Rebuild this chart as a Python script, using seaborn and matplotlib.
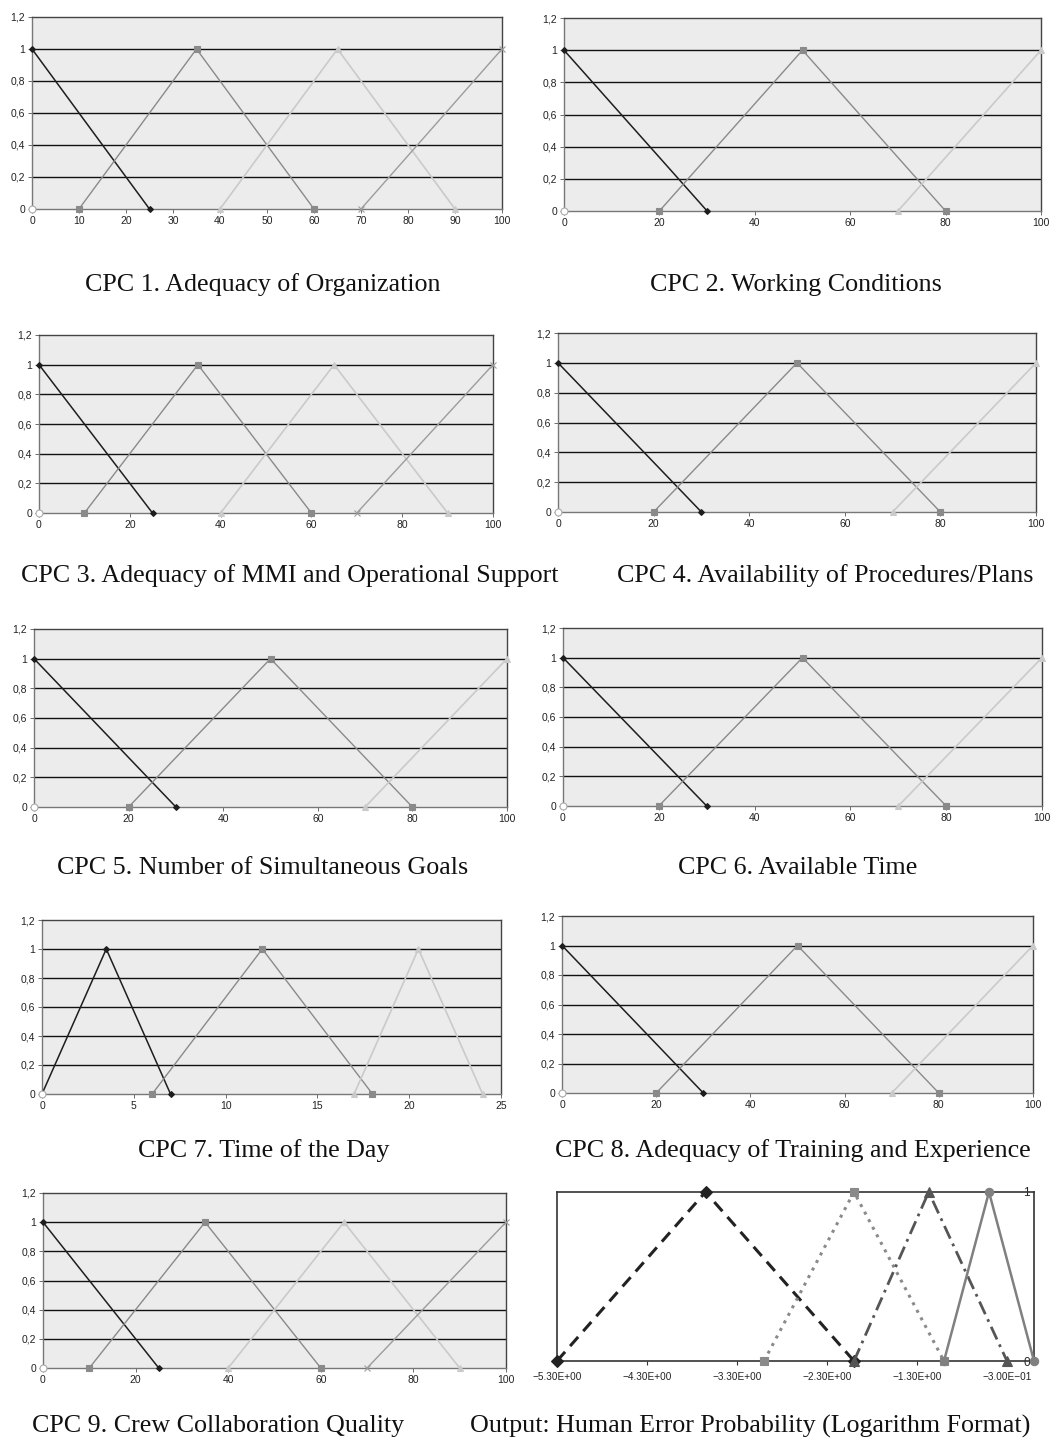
import numpy as np
import pandas as pd
import matplotlib
matplotlib.use("Agg")
import matplotlib.pyplot as plt
import seaborn as sns

# ---------------- data ----------------
panel_titles = [
    "CPC 1. Adequacy of Organization",
    "CPC 2. Working Conditions",
    "CPC 3. Adequacy of MMI and Operational Support",
    "CPC 4. Availability of Procedures/Plans",
    "CPC 5. Number of Simultaneous Goals",
    "CPC 6. Available Time",
    "CPC 7. Time of the Day",
    "CPC 8. Adequacy of Training and Experience",
    "CPC 9. Crew Collaboration Quality",
    "Output: Human Error Probability (Logarithm Format)",
]

# four-term membership functions (CPC 1, 3, 9)
four_x = [[0, 25], [10, 35, 60], [40, 65, 90], [70, 100]]
four_y = [[1, 0], [0, 1, 0], [0, 1, 0], [0, 1]]

# three-term membership functions (CPC 2, 4, 5, 6, 8)
three_x = [[0, 30], [20, 50, 80], [70, 100]]
three_y = [[1, 0], [0, 1, 0], [0, 1]]

# time of day (CPC 7)
day_x = [[0, 3.5, 7], [6, 12, 18], [17, 20.5, 24]]
day_y = [[0, 1, 0], [0, 1, 0], [0, 1, 0]]

# empty reference point drawn at the origin in each CPC chart
origin_x = [0]
origin_y = [0]

# output: human error probability (log10)
hep_x = [[-5.3, -3.65, -2.0], [-3.0, -2.0, -1.0], [-2.0, -1.17, -0.3], [-1.0, -0.5, 0.0]]
hep_y = [[0, 1, 0], [0, 1, 0], [0, 1, 0], [0, 1, 0]]
hep_ticks = [-5.3, -4.3, -3.3, -2.3, -1.3, -0.3]
hep_tick_labels = ["\u22125.30E+00", "\u22124.30E+00", "\u22123.30E+00",
                   "\u22122.30E+00", "\u22121.30E+00", "\u22123.00E\u221201"]

y_ticks = [0, 0.2, 0.4, 0.6, 0.8, 1.0, 1.2]
y_tick_labels = ["0", "0,2", "0,4", "0,6", "0,8", "1", "1,2"]

x_ticks_10 = [0, 10, 20, 30, 40, 50, 60, 70, 80, 90, 100]
x_ticks_20 = [0, 20, 40, 60, 80, 100]
x_ticks_day = [0, 5, 10, 15, 20, 25]

# ---------------- style ----------------
sns.set_style("white")
plt.rcParams["font.family"] = ["Liberation Sans", "DejaVu Sans"]

W, H = 1054, 1439
fig = plt.figure(figsize=(W / 100, H / 100), dpi=100)
fig.patch.set_facecolor("white")


def add_ax(l, t, r, b):
    return fig.add_axes([l / W, 1 - b / H, (r - l) / W, (b - t) / H])


def mk(color, marker, ms, lw, **extra):
    d = dict(color=color, marker=marker, markersize=ms, linewidth=lw,
             markeredgecolor=color, markerfacecolor=color, markeredgewidth=0.8)
    d.update(extra)
    return d


four_styles = [
    mk("#1e1e1e", "D", 3.0, 1.1),
    mk("#8a8a8a", "s", 4.5, 1.0),
    mk("#cacaca", "^", 4.5, 1.2),
    mk("#9c9c9c", "x", 4.5, 1.0),
]
three_styles = [four_styles[0], four_styles[1], four_styles[2]]

# (box in px, x data, y data, styles, xticks, xmax)
panels = [
    ((32, 17, 502, 209), four_x, four_y, four_styles, x_ticks_10, 100),
    ((564, 18, 1041, 211), three_x, three_y, three_styles, x_ticks_20, 100),
    ((39, 335, 493, 513), four_x, four_y, four_styles, x_ticks_20, 100),
    ((558, 333, 1036, 512), three_x, three_y, three_styles, x_ticks_20, 100),
    ((34, 629, 507, 807), three_x, three_y, three_styles, x_ticks_20, 100),
    ((563, 628, 1042, 806), three_x, three_y, three_styles, x_ticks_20, 100),
    ((42, 920, 501, 1094), day_x, day_y, three_styles, x_ticks_day, 25),
    ((562, 916, 1033, 1093), three_x, three_y, three_styles, x_ticks_20, 100),
    ((43, 1193, 506, 1368), four_x, four_y, four_styles, x_ticks_20, 100),
]

for box, xs_list, ys_list, styles, xt, xmax in panels:
    ax = add_ax(*box)
    ax.set_facecolor("#ececec")
    for yv in y_ticks[1:-1]:
        ax.axhline(yv, color="#111111", linewidth=1.0, zorder=1)
    for xs, ys, st in zip(xs_list, ys_list, styles):
        sns.lineplot(x=xs, y=ys, ax=ax, sort=False, estimator=None,
                     clip_on=False, zorder=3, **st)
    sns.lineplot(x=origin_x, y=origin_y, ax=ax, marker="o", markersize=5,
                 markerfacecolor="white", markeredgecolor="#aaaaaa",
                 markeredgewidth=0.8, linewidth=0, clip_on=False, zorder=4)
    ax.set_xlim(0, xmax)
    ax.set_ylim(0, 1.2)
    ax.set_xticks(xt)
    ax.set_xticklabels([str(v) for v in xt])
    ax.set_yticks(y_ticks)
    ax.set_yticklabels(y_tick_labels)
    ax.tick_params(axis="both", which="both", labelsize=7.5, length=3,
                   width=0.6, color="#555555", direction="out", pad=2,
                   labelcolor="#222222", bottom=True, left=True)
    for side, sp in ax.spines.items():
        sp.set_visible(True)
        sp.set_linewidth(1.0)
        sp.set_color("#777777" if side in ("bottom", "left") else "#444444")
    ax.set_xlabel("")
    ax.set_ylabel("")

# output panel
ax = add_ax(557, 1192, 1034, 1361)
ax.set_facecolor("white")
out_styles = [
    mk("#222222", "D", 6, 2.2, linestyle=(0, (4, 2.5))),
    mk("#8a8a8a", "s", 6, 2.2, linestyle=(0, (1, 1.8))),
    mk("#555555", "^", 7, 2.0, linestyle=(0, (5, 2, 1, 2))),
    mk("#808080", "o", 6, 1.8, linestyle="-"),
]
for xs, ys, st in zip(hep_x, hep_y, out_styles):
    sns.lineplot(x=xs, y=ys, ax=ax, sort=False, estimator=None,
                 clip_on=False, zorder=3, **st)
ax.set_xlim(-5.3, 0.0)
ax.set_ylim(0, 1)
ax.set_xticks(hep_ticks)
ax.set_xticklabels(hep_tick_labels)
ax.yaxis.tick_right()
ax.set_yticks([0, 1])
ax.set_yticklabels(["0", "1"])
ax.tick_params(axis="x", labelsize=7.2, length=3, width=0.8, color="#333333",
               direction="out", pad=5, bottom=True, labelcolor="#222222")
ax.tick_params(axis="y", labelsize=8.5, length=0, pad=-3, right=True)
for lab in ax.get_yticklabels():
    lab.set_horizontalalignment("right")
for sp in ax.spines.values():
    sp.set_visible(True)
    sp.set_linewidth(1.2)
    sp.set_color("#333333")
ax.set_xlabel("")
ax.set_ylabel("")

# captions
captions = [
    (263, 285), (796, 285),
    (290, 576), (825, 576),
    (263, 868), (798, 868),
    (264, 1151), (793, 1151),
    (218, 1426), (750, 1426),
]
for (cx, cy), txt in zip(captions, panel_titles):
    fig.text(cx / W, 1 - cy / H, txt, ha="center", va="center",
             fontsize=18.7, family=["Liberation Serif", "DejaVu Serif"],
             color="#111111")

fig.savefig("out.png", dpi=100, facecolor="white")
